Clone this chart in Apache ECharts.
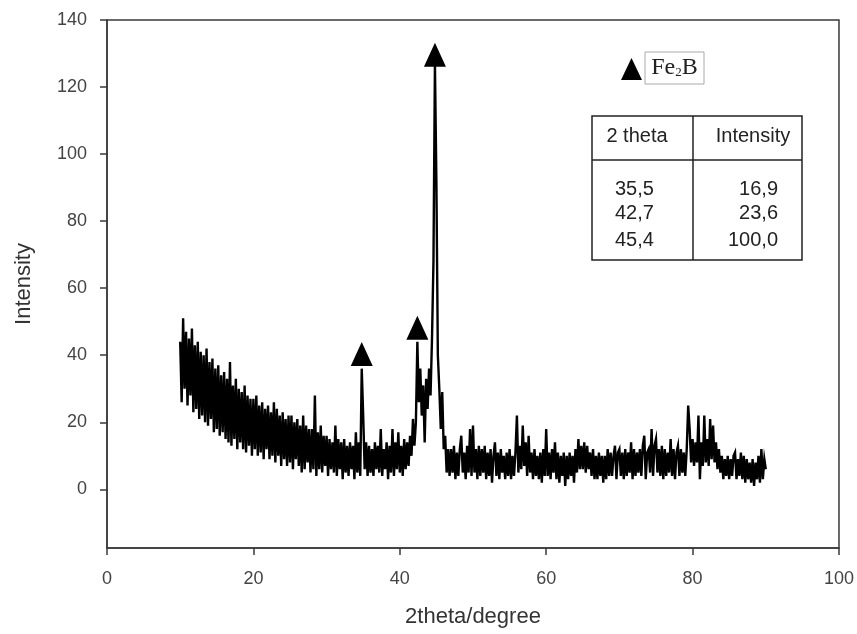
<!DOCTYPE html>
<html><head><meta charset="utf-8">
<script src="https://cdn.jsdelivr.net/npm/echarts@6/dist/echarts.min.js"></script>
<style>html,body{margin:0;padding:0;background:#fff}#c{width:857px;height:634px}</style>
</head><body><div id="c"></div>
<script>
// Measurement grid (2theta, degrees)
const startAngle = 10.0;
const stepAngle = 0.2;
// Intensity, one value per 0.2 degree step, 10.0 .. 90.0
const intensity = [
  44, 26, 51, 30, 47,  25, 45, 28, 48, 23,  43, 24, 44, 21, 41,  22, 40, 20, 42, 19,
  38, 21, 39, 17, 36,  18, 37, 16, 34, 17,  35, 15, 33, 14, 38,  13, 31, 15, 33, 12,
  30, 14, 29, 12, 31,  11, 28, 13, 27, 10,  27, 12, 28, 10, 25,  11, 26, 9, 24, 12,
  25, 9, 23, 10, 26,   8, 24, 10, 22, 7,    23, 9, 21, 7, 22,    8, 22, 6, 20, 9,
  21, 7, 19, 5, 22,    6, 19, 8, 18, 5,     18, 6, 28, 4, 17,    6, 19, 5, 16, 7,
  16, 4, 15, 6, 14,    5, 19, 4, 15, 6,     14, 3, 15, 5, 13,    4, 14, 6, 13, 3,
  17, 5, 14, 4, 36,    22, 6, 14, 4, 13,    5, 12, 4, 14, 6,     13, 5, 18, 4, 12,
  6, 14, 3, 13, 5,     18, 4, 14, 6, 17,    5, 13, 4, 15, 6,     14, 7, 16, 10, 21,
  13, 20, 44, 26, 36,  22, 31, 14, 33, 24,  36, 28, 45, 68, 127, 92, 40, 30, 18, 29,
  12, 16, 5, 12, 4,    12, 5, 13, 3, 11,    4, 12, 16, 5, 11,    3, 13, 5, 18, 4,
  19, 5, 12, 3, 13,    4, 12, 5, 13, 3,     11, 4, 12, 2, 10,    14, 4, 11, 3, 12,
  5, 10, 3, 11, 4,     12, 3, 10, 4, 11,    22, 5, 13, 6, 19,    7, 14, 4, 16, 5,
  11, 3, 12, 4, 10,    3, 11, 2, 12, 4,     18, 4, 11, 3, 12,    5, 14, 3, 11, 2,
  10, 4, 11, 1, 10,    3, 11, 4, 10, 2,     12, 5, 15, 6, 13,    6, 14, 5, 13, 6,
  11, 4, 12, 3, 10,    3, 11, 4, 10, 2,     10, 3, 12, 4, 11,    4, 10, 13, 3, 11,
  12, 4, 11, 3, 12,    4, 11, 5, 14, 3,     12, 4, 11, 5, 12,    4, 13, 16, 3, 11,
  12, 5, 18, 4, 13,    15, 5, 12, 4, 13,    3, 12, 4, 11, 5,     15, 4, 12, 3, 11,
  13, 4, 12, 5, 11,    4, 12, 25, 18, 8,    15, 7, 14, 8, 22,    3, 14, 7, 22, 8,
  15, 7, 21, 9, 19,    8, 14, 6, 12, 5,     10, 3, 9, 4, 10,     3, 9, 4, 10, 11,
  3, 9, 4, 11, 3,      10, 2, 9, 3, 8,      2, 9, 1, 8, 3,       10, 2, 12, 3, 9,
  6
];
// Fe2B peak markers (triangles)
const peakAngles = [34.8, 42.4, 44.8];
const peakMarkerHeights = [40.4, 48.2, 129.6];
// Tick labels
const yTickValues = [0, 20, 40, 60, 80, 100, 120, 140];
// Table
const tableHeader = ['2 theta', 'Intensity'];
const tableTheta = ['35,5', '42,7', '45,4'];
const tableIntensity = ['16,9', '23,6', '100,0'];

const pattern = intensity.map((v, i) => [+(startAngle + i * stepAngle).toFixed(1), v]);
const markers = peakAngles.map((a, i) => [a, peakMarkerHeights[i]]);

const axisColor = '#3a3a3a';
const labelColor = '#444';
const fontSans = '"Liberation Sans", Arial, sans-serif';
const chart = echarts.init(document.getElementById('c'), null, {renderer: 'canvas'});

const tableFont = '20px "Liberation Sans", Arial, sans-serif';
const tableGraphics = [
  {type: 'rect', shape: {x: 592, y: 116, width: 210, height: 144}, style: {fill: 'none', stroke: '#222', lineWidth: 1.5}},
  {type: 'line', shape: {x1: 693, y1: 116, x2: 693, y2: 260}, style: {stroke: '#222', lineWidth: 1.5}},
  {type: 'line', shape: {x1: 592, y1: 160, x2: 802, y2: 160}, style: {stroke: '#222', lineWidth: 1.5}},
  {type: 'text', x: 637, y: 136, style: {text: tableHeader[0], font: tableFont, fill: '#222', align: 'center', verticalAlign: 'middle'}},
  {type: 'text', x: 753, y: 136, style: {text: tableHeader[1], font: tableFont, fill: '#222', align: 'center', verticalAlign: 'middle'}}
];
const rowY = [189, 213, 240];
tableTheta.forEach((t, i) => {
  tableGraphics.push({type: 'text', x: 615, y: rowY[i], style: {text: t, font: tableFont, fill: '#222', align: 'left', verticalAlign: 'middle'}});
  tableGraphics.push({type: 'text', x: 778, y: rowY[i], style: {text: tableIntensity[i], font: tableFont, fill: '#222', align: 'right', verticalAlign: 'middle'}});
});

chart.setOption({
  backgroundColor: '#fff',
  animation: false,
  grid: {left: 107, right: 18, top: 20, bottom: 86, show: true, borderColor: axisColor, borderWidth: 1.5, backgroundColor: 'transparent'},
  xAxis: {
    type: 'value', min: 0, max: 100, interval: 20,
    name: '2theta/degree', nameLocation: 'middle', nameGap: 58,
    nameTextStyle: {fontSize: 22, color: '#333', fontFamily: fontSans},
    axisLine: {show: true, onZero: false, lineStyle: {color: axisColor, width: 1.5}},
    axisTick: {show: true, inside: false, length: 7, lineStyle: {color: axisColor, width: 1.5}},
    axisLabel: {fontSize: 18, color: labelColor, margin: 22, fontFamily: fontSans},
    splitLine: {show: false}
  },
  yAxis: {
    type: 'value', min: -17.5, max: 140,
    name: 'Intensity', nameLocation: 'middle', nameGap: 72,
    nameTextStyle: {fontSize: 22, color: '#333', fontFamily: fontSans},
    axisLine: {show: true, onZero: false, lineStyle: {color: axisColor, width: 1.5}},
    axisTick: {show: true, inside: false, length: 7, customValues: yTickValues, lineStyle: {color: axisColor, width: 1.5}},
    axisLabel: {fontSize: 18, color: labelColor, margin: 20, customValues: yTickValues, fontFamily: fontSans},
    splitLine: {show: false}
  },
  series: [
    {
      type: 'line', data: pattern, showSymbol: false, symbol: 'none',
      lineStyle: {color: '#000', width: 2.4, join: 'miter'}, sampling: null, silent: true, z: 2
    },
    {
      type: 'scatter', data: markers, symbol: 'triangle', symbolSize: [22, 24],
      itemStyle: {color: '#000', opacity: 1}, silent: true, z: 3
    }
  ],
  graphic: [
    {type: 'polygon', shape: {points: [[621, 80], [642, 80], [631.5, 58]]}, style: {fill: '#000'}},
    {type: 'rect', shape: {x: 645, y: 52, width: 59, height: 32}, style: {fill: '#fff', stroke: '#aaa', lineWidth: 1}},
    {type: 'text', x: 674.5, y: 68, style: {
      text: '{a|Fe}{s|2}{a|B}', align: 'center', verticalAlign: 'middle',
      rich: {
        a: {font: '24px "Liberation Serif", "Times New Roman", serif', fill: '#222', verticalAlign: 'bottom'},
        s: {font: '13px "Liberation Serif", "Times New Roman", serif', fill: '#222', verticalAlign: 'bottom', padding: [0, 0, 1, 0]}
      }
    }}
  ].concat(tableGraphics)
});
</script>
</body></html>
